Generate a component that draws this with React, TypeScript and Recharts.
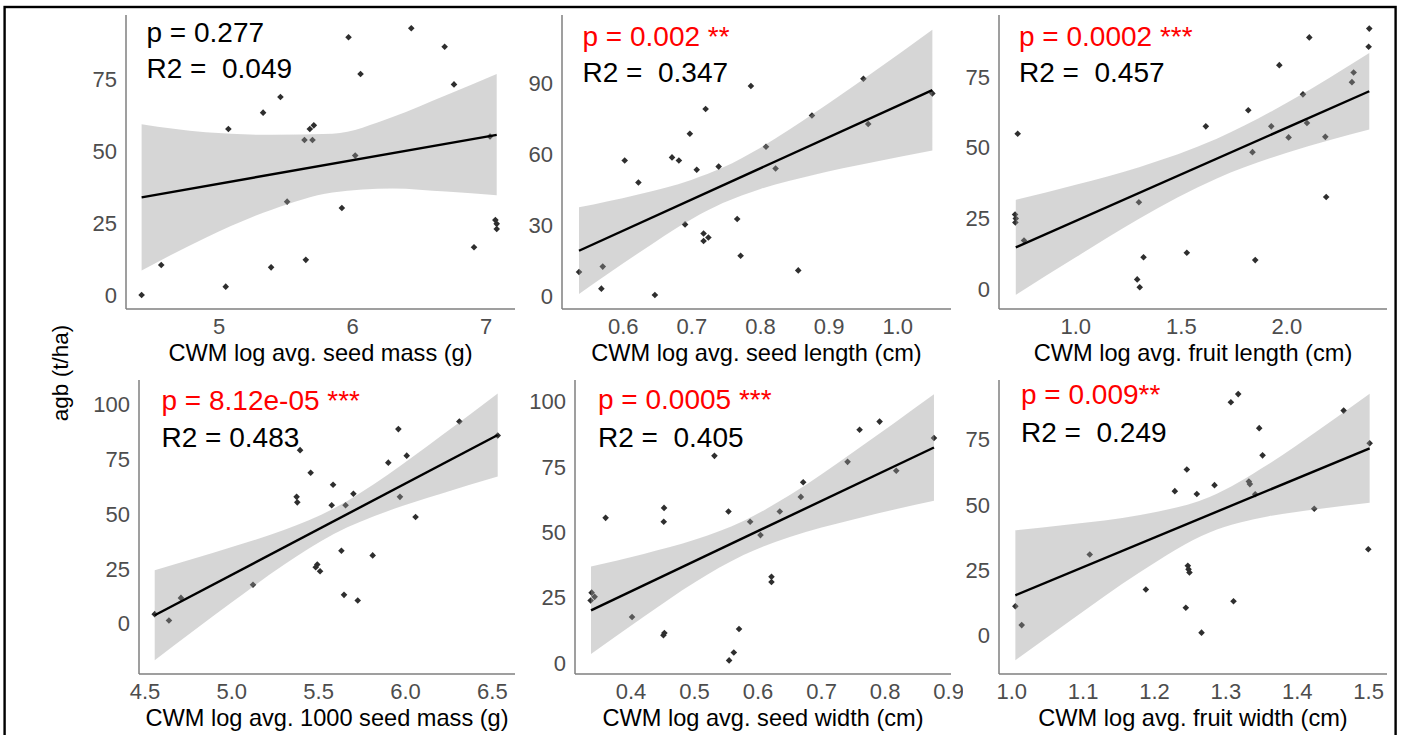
import React from 'react';
import { ComposedChart, Scatter, Area, Line, XAxis, YAxis } from 'recharts';

const FONT = '"Liberation Sans", Arial, Helvetica, sans-serif';

// ---- seed mass (g) ----
const massX = [4.42, 4.567, 5.05, 5.07, 5.33, 5.39, 5.46, 5.51, 5.64, 5.65, 5.68, 5.71, 5.7, 5.92, 5.97, 6.02, 6.06, 6.44, 6.69, 6.76, 6.91, 7.03, 7.07, 7.08, 7.08];
const massY = [0, 10.4, 2.9, 57.6, 63.3, 9.6, 68.75, 32.4, 53.8, 12.2, 57.6, 58.9, 53.8, 30.2, 89.5, 48.4, 76.7, 92.6, 86.2, 73.1, 16.6, 55.0, 26.0, 24.7, 22.9];
const massFitX = [4.42, 7.08];
const massFitY = [33.9, 55.6];
const massBandX = [4.42, 4.9, 5.4, 5.85, 6.3, 6.7, 7.08];
const massBandLow = [8.5, 19.9, 29.7, 35.6, 37.0, 35.9, 34.6];
const massBandHigh = [59.3, 56.5, 55.6, 56.0, 61.8, 69.3, 76.7];
const massXTicks = [5, 6, 7];
const massYTicks = [0, 25, 50, 75];

// ---- seed length (cm) ----
const lenX = [0.5354, 0.568, 0.57, 0.602, 0.622, 0.646, 0.671, 0.681, 0.69, 0.697, 0.707, 0.717, 0.717, 0.72, 0.724, 0.739, 0.766, 0.771, 0.786, 0.808, 0.822, 0.855, 0.875, 0.95, 0.957, 1.0505];
const lenY = [10.4, 3.4, 12.7, 57.5, 48.2, 0.7, 58.8, 57.5, 30.5, 68.8, 53.6, 26.7, 23.5, 79.2, 25.0, 54.9, 32.8, 17.3, 88.9, 63.3, 54.1, 11.1, 76.5, 92.0, 72.9, 85.8];
const lenFitX = [0.5354, 1.0505];
const lenFitY = [19.4, 87.2];
const lenBandX = [0.5354, 0.62, 0.7, 0.745, 0.8, 0.88, 0.96, 1.0505];
const lenBandLow = [1.1, 18.0, 32.8, 39.5, 45.5, 51.6, 56.5, 61.7];
const lenBandHigh = [37.7, 43.0, 49.4, 54.5, 62.9, 77.8, 93.9, 112.7];
const lenXTicks = [0.6, 0.7, 0.8, 0.9, 1.0];
const lenYTicks = [0, 30, 60, 90];

// ---- fruit length (cm) ----
const fruitLenX = [0.725, 0.7125, 0.716, 0.714, 0.755, 1.291, 1.303, 1.299, 1.321, 1.526, 1.616, 1.817, 1.837, 1.85, 1.926, 1.964, 2.008, 2.076, 2.095, 2.106, 2.182, 2.186, 2.308, 2.316, 2.387, 2.39];
const fruitLenY = [54.9, 26.4, 25.0, 23.6, 17.2, 3.5, 0.7, 30.7, 11.3, 12.9, 57.5, 63.2, 48.4, 10.3, 57.5, 79.1, 53.6, 68.8, 58.7, 88.9, 53.8, 32.6, 73.1, 76.5, 85.6, 92.0];
const fruitLenFitX = [0.716, 2.39];
const fruitLenFitY = [14.8, 69.9];
const fruitLenBandX = [0.716, 1.0, 1.3, 1.668, 2.0, 2.2, 2.39];
const fruitLenBandLow = [-1.95, 11.3, 24.9, 39.1, 48.2, 52.6, 56.4];
const fruitLenBandHigh = [31.55, 36.9, 43.1, 53.1, 65.8, 74.6, 83.4];
const fruitLenXTicks = [1.0, 1.5, 2.0];
const fruitLenYTicks = [0, 25, 50, 75];

// ---- 1000 seed mass (g) ----
const kMassX = [4.556, 4.638, 4.707, 5.122, 5.373, 5.377, 5.393, 5.454, 5.483, 5.492, 5.508, 5.575, 5.583, 5.631, 5.646, 5.655, 5.7, 5.725, 5.811, 5.901, 5.959, 5.968, 6.007, 6.058, 6.31, 6.531];
const kMassY = [4.3, 1.4, 11.7, 17.7, 57.8, 55.3, 79.1, 68.8, 25.7, 26.9, 23.9, 54.0, 63.3, 33.2, 13.1, 54.0, 59.2, 10.5, 31.1, 73.4, 88.7, 57.8, 76.6, 48.6, 92.2, 85.8];
const kMassFitX = [4.556, 6.531];
const kMassFitY = [3.8, 86.0];
const kMassBandX = [4.556, 5.0, 5.3, 5.587, 5.9, 6.2, 6.531];
const kMassBandLow = [-16.75, 9.7, 26.8, 40.9, 51.4, 59.1, 67.05];
const kMassBandHigh = [24.35, 34.9, 42.7, 52.5, 68.0, 85.3, 104.95];
const kMassXTicks = [4.5, 5.0, 5.5, 6.0, 6.5];
const kMassYTicks = [0, 25, 50, 75, 100];

// ---- seed width (cm) ----
const widX = [0.3364, 0.338, 0.3427, 0.36, 0.4016, 0.451, 0.4525, 0.4515, 0.452, 0.5313, 0.5534, 0.5544, 0.5618, 0.57, 0.5875, 0.6038, 0.6211, 0.6211, 0.6342, 0.6673, 0.671, 0.7409, 0.7598, 0.7913, 0.8175, 0.8769];
const widY = [23.9, 26.9, 25.3, 55.5, 17.6, 10.6, 11.5, 54.0, 59.3, 79.2, 57.9, 1.0, 4.0, 13.0, 54.0, 48.9, 33.0, 31.0, 57.9, 63.5, 69.1, 76.9, 89.2, 92.3, 73.5, 86.0];
const widFitX = [0.337, 0.8769];
const widFitY = [20.15, 82.4];
const widBandX = [0.337, 0.42, 0.5, 0.577, 0.65, 0.75, 0.8769];
const widBandLow = [3.4, 17.7, 30.8, 41.3, 48.2, 54.9, 62.05];
const widBandHigh = [36.9, 41.7, 47.1, 54.3, 64.2, 80.7, 102.75];
const widXTicks = [0.4, 0.5, 0.6, 0.7, 0.8, 0.9];
const widYTicks = [0, 25, 50, 75, 100];

// ---- fruit width (cm) ----
const fruitWidX = [1.0051, 1.014, 1.1093, 1.1879, 1.2285, 1.2439, 1.2453, 1.2467, 1.2477, 1.249, 1.2593, 1.2659, 1.2841, 1.307, 1.3107, 1.3173, 1.3322, 1.3336, 1.3411, 1.3467, 1.3514, 1.4238, 1.465, 1.4995, 1.5014];
const fruitWidY = [11.2, 4.0, 31.0, 17.6, 55.2, 10.6, 63.5, 26.7, 25.3, 24.1, 54.1, 1.1, 57.5, 89.2, 13.1, 92.3, 58.9, 57.9, 54.0, 79.3, 68.9, 48.5, 86.0, 33.0, 73.5];
const fruitWidFitX = [1.0051, 1.5014];
const fruitWidFitY = [15.4, 71.6];
const fruitWidBandX = [1.0051, 1.08, 1.18, 1.2771, 1.36, 1.43, 1.5014];
const fruitWidBandLow = [-9.45, 5.3, 24.3, 39.4, 45.6, 48.4, 50.75];
const fruitWidBandHigh = [40.25, 42.5, 46.1, 53.0, 65.6, 78.6, 92.45];
const fruitWidXTicks = [1.0, 1.1, 1.2, 1.3, 1.4, 1.5];
const fruitWidYTicks = [0, 25, 50, 75];

const xTitles = [
  'CWM log avg. seed mass (g)',
  'CWM log avg. seed length (cm)',
  'CWM log avg. fruit length (cm)',
  'CWM log avg. 1000 seed mass (g)',
  'CWM log avg. seed width (cm)',
  'CWM log avg. fruit width (cm)',
];
const pLabels = ['p = 0.277', 'p = 0.002 **', 'p = 0.0002 ***', 'p = 8.12e-05 ***', 'p = 0.0005 ***', 'p = 0.009**'];
const r2Labels = ['R2 =  0.049', 'R2 =  0.347', 'R2 =  0.457', 'R2 = 0.483', 'R2 =  0.405', 'R2 =  0.249'];
const pSignificant = [false, true, true, true, true, true];

const zip = (xs: number[], ys: number[]) => xs.map((x, i) => ({ x, y: ys[i] }));
const bandRows = (xs: number[], lo: number[], hi: number[]) => xs.map((x, i) => ({ x, band: [lo[i], hi[i]] }));

const panels = [
  { pts: zip(massX, massY), fit: zip(massFitX, massFitY), band: bandRows(massBandX, massBandLow, massBandHigh), xTicks: massXTicks, yTicks: massYTicks, xDomain: [4.303, 7.217], yDomain: [-4.86, 97.2], dec: 0 },
  { pts: zip(lenX, lenY), fit: zip(lenFitX, lenFitY), band: bandRows(lenBandX, lenBandLow, lenBandHigh), xTicks: lenXTicks, yTicks: lenYTicks, xDomain: [0.5106, 1.0777], yDomain: [-5.2, 118.9], dec: 1 },
  { pts: zip(fruitLenX, fruitLenY), fit: zip(fruitLenFitX, fruitLenFitY), band: bandRows(fruitLenBandX, fruitLenBandLow, fruitLenBandHigh), xTicks: fruitLenXTicks, yTicks: fruitLenYTicks, xDomain: [0.6365, 2.474], yDomain: [-6.95, 96.8], dec: 1 },
  { pts: zip(kMassX, kMassY), fit: zip(kMassFitX, kMassFitY), band: bandRows(kMassBandX, kMassBandLow, kMassBandHigh), xTicks: kMassXTicks, yTicks: kMassYTicks, xDomain: [4.4655, 6.6305], yDomain: [-23.0, 111.1], dec: 1 },
  { pts: zip(widX, widY), fit: zip(widFitX, widFitY), band: bandRows(widBandX, widBandLow, widBandHigh), xTicks: widXTicks, yTicks: widYTicks, xDomain: [0.3118, 0.9037], yDomain: [-4.2, 108.2], dec: 1 },
  { pts: zip(fruitWidX, fruitWidY), fit: zip(fruitWidFitX, fruitWidFitY), band: bandRows(fruitWidBandX, fruitWidBandLow, fruitWidBandHigh), xTicks: fruitWidXTicks, yTicks: fruitWidYTicks, xDomain: [0.9822, 1.5257], yDomain: [-14.7, 97.7], dec: 1 },
];

// plot-area boxes in page pixels: [left, top, right, bottom]
const plotBoxes = [
  [126, 15, 515, 309],
  [562, 15, 951, 309],
  [999, 15, 1387, 309],
  [139, 380, 515, 674],
  [575, 380, 951, 674],
  [999, 380, 1387, 674],
];
// annotation anchors: [x, pBaseline, r2Baseline]
const notes = [
  [146.5, 41.7, 78.3],
  [582.5, 45.7, 81.7],
  [1019, 45.7, 82.3],
  [161.5, 410, 446.7],
  [598, 409.3, 446.7],
  [1021, 404.3, 441.7],
];

const Y_W = 70;
const X_H = 40;
const M_TOP = 5;
const M_RIGHT = 12;

const Diamond = (props: any) => {
  const { cx, cy } = props;
  if (cx == null || cy == null) return null;
  const r = 3.3;
  return <path d={`M${cx},${cy - r}L${cx + r},${cy}L${cx},${cy + r}L${cx - r},${cy}Z`} fill="#2e2e2e" />;
};

const tickStyle = { fill: '#4d4d4d', fontSize: 22, fontFamily: FONT };
const axisLine = { stroke: '#7f7f7f', strokeWidth: 1.5 };

const Panel = ({ idx }: { idx: number }) => {
  const p = panels[idx];
  const [l, t, r, b] = plotBoxes[idx];
  const left = l - Y_W;
  const top = t - M_TOP;
  const width = r - left + M_RIGHT;
  const height = M_TOP + (b - t) + X_H;
  return (
    <div style={{ position: 'absolute', left, top, width, height }}>
      <ComposedChart width={width} height={height} margin={{ top: M_TOP, right: M_RIGHT, bottom: 0, left: 0 }}>
        <XAxis
          type="number"
          dataKey="x"
          domain={p.xDomain}
          ticks={p.xTicks}
          interval={0}
          allowDataOverflow
          tickFormatter={(v: number) => v.toFixed(p.dec)}
          tickLine={false}
          tickSize={0}
          tickMargin={9}
          axisLine={axisLine}
          tick={tickStyle}
          height={X_H}
        />
        <YAxis
          type="number"
          domain={p.yDomain}
          ticks={p.yTicks}
          interval={0}
          allowDataOverflow
          tickLine={false}
          tickSize={0}
          tickMargin={9}
          axisLine={axisLine}
          tick={tickStyle}
          width={Y_W}
        />
        <Scatter data={p.pts} dataKey="y" shape={<Diamond />} isAnimationActive={false} zIndex={50} />
        <Area
          data={p.band}
          dataKey="band"
          type="monotone"
          fill="#999999"
          fillOpacity={0.4}
          stroke="none"
          isAnimationActive={false}
          activeDot={false}
          zIndex={100}
        />
        <Line
          data={p.fit}
          dataKey="y"
          type="linear"
          stroke="#000000"
          strokeWidth={2.4}
          dot={false}
          activeDot={false}
          isAnimationActive={false}
          zIndex={400}
        />
      </ComposedChart>
    </div>
  );
};

export default function App() {
  return (
    <div style={{ position: 'absolute', left: 0, top: 0, width: 1403, height: 735, overflow: 'hidden', background: '#fff' }}>
      {panels.map((_, i) => (
        <Panel key={i} idx={i} />
      ))}
      <svg width={1403} height={735} style={{ position: 'absolute', left: 0, top: 0, pointerEvents: 'none' }}>
        <rect x={4.6} y={7} width={1391} height={780} fill="none" stroke="#000" strokeWidth={2.4} />
        <text
          x={60}
          y={373}
          transform="rotate(-90 60 373)"
          textAnchor="middle"
          dominantBaseline="central"
          fontFamily={FONT}
          fontSize={22.5}
          fill="#000"
        >
          agb (t/ha)
        </text>
        {plotBoxes.map(([l, , r, b], i) => (
          <text
            key={`xt${i}`}
            x={(l + r) / 2}
            y={b + 52}
            textAnchor="middle"
            fontFamily={FONT}
            fontSize={23.6}
            fill="#000"
          >
            {xTitles[i]}
          </text>
        ))}
        {notes.map(([x, py, ry], i) => (
          <g key={`n${i}`} fontFamily={FONT} fontSize={28}>
            <text x={x} y={py} fill={pSignificant[i] ? '#ff0000' : '#000'} style={{ whiteSpace: 'pre' }}>
              {pLabels[i]}
            </text>
            <text x={x} y={ry} fill="#000" style={{ whiteSpace: 'pre' }}>
              {r2Labels[i]}
            </text>
          </g>
        ))}
      </svg>
    </div>
  );
}
